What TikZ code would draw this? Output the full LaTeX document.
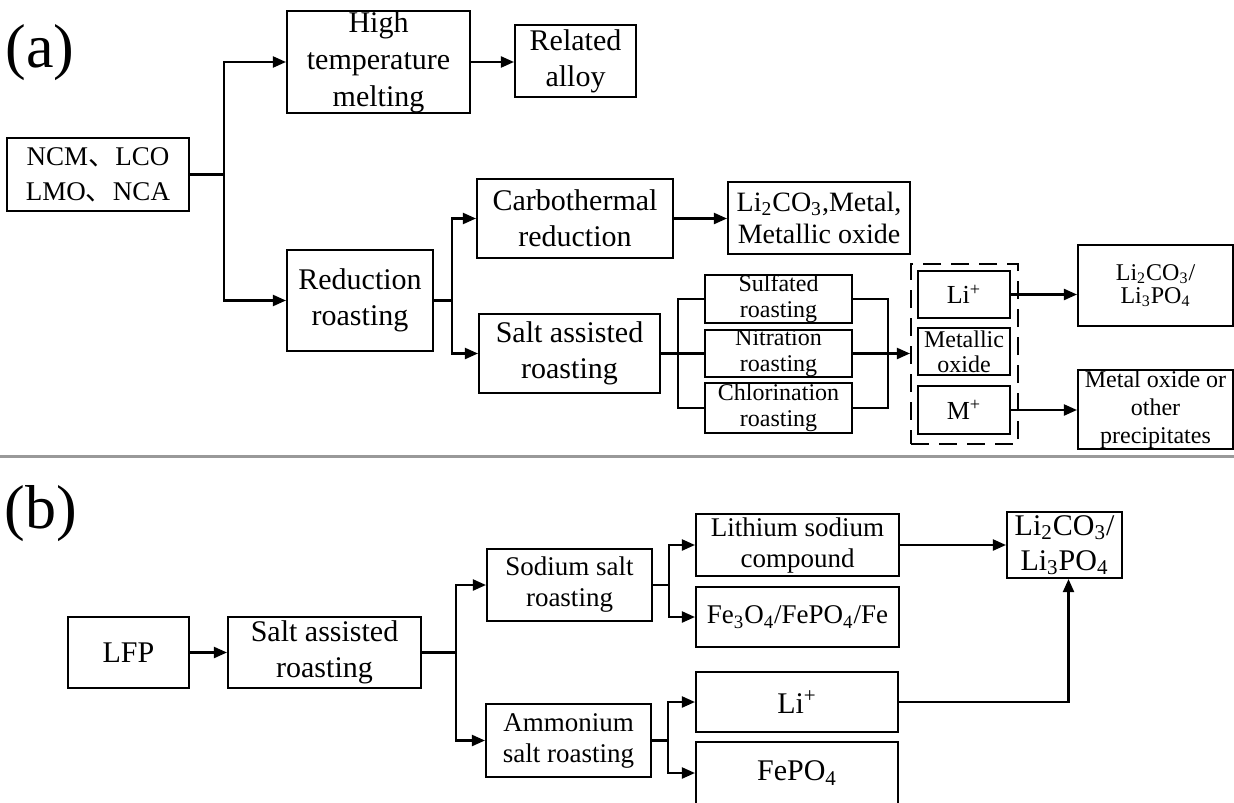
\documentclass[tikz,border=0pt]{standalone}
\usepackage{fontspec}
\setmainfont{Liberation Serif}
\newfontfamily\cjk{Noto Sans CJK SC}
\usetikzlibrary{arrows.meta}

\begin{document}
\begin{tikzpicture}[x=0.5pt, y=-0.5pt,
    box/.style={draw, line width=1.05pt, inner sep=0pt, align=center},
    big/.style={font=\fontsize{15}{18}\selectfont},
    mid/.style={font=\fontsize{13.5}{15.5}\selectfont},
    small/.style={font=\fontsize{12}{13}\selectfont},
    tag/.style={font=\fontsize{31}{36}\selectfont, anchor=base},
    arr/.style={line width=1.05pt, -{Triangle[length=6.5pt,width=5.5pt]}},
    wire/.style={line width=1.05pt}]
    \useasboundingbox (0,0) rectangle (1234,802);

    % (a) cathodes of NCM type
    \node[tag] (taga) at (40,68) {(a)};
    \node[box, font=\fontsize{13.5}{17.5}\selectfont, minimum width=91pt, minimum height=36.5pt] (ncm) at (98,174.5) {NCM{\cjk 、}LCO\\LMO{\cjk 、}NCA};

    % melting route
    \node[box, font=\fontsize{15}{18.5}\selectfont, minimum width=91.5pt, minimum height=50pt] (high) at (378.5,62) {High\\temperature\\melting};
    \node[box, big, minimum width=60.5pt, minimum height=36pt] (alloy) at (575.5,61) {Related\\alloy};

    % roasting route
    \node[box, big, minimum width=73pt, minimum height=50.5pt] (red) at (360,300.5) {Reduction\\roasting};
    \node[box, big, minimum width=98pt, minimum height=39.5pt] (carbo) at (575,218.5) {Carbothermal\\reduction};
    \node[box, font=\fontsize{14}{16}\selectfont, minimum width=91pt, minimum height=36pt] (lico) at (819,218) {Li\textsubscript{2}CO\textsubscript{3},Metal,\\Metallic oxide};
    \node[box, big, minimum width=90.5pt, minimum height=39.5pt] (asalt) at (569.5,353.5) {Salt assisted\\roasting};

    % salt types
    \node[box, small, minimum width=73.5pt, minimum height=24pt] (sulf) at (778.5,299) {Sulfated\\roasting};
    \node[box, small, minimum width=73.5pt, minimum height=23.5pt] (nitr) at (778.5,353.5) {Nitration\\roasting};
    \node[box, small, minimum width=73.5pt, minimum height=25pt] (chlo) at (778.5,408) {Chlorination\\roasting};

    % products
    \node[draw, dashed, dash pattern=on 9pt off 5pt, line width=1.05pt, minimum width=53.5pt, minimum height=90pt] (cage) at (964.5,354) {};
    \node[box, font=\fontsize{13}{13}\selectfont, minimum width=46pt, minimum height=23.5pt] (ali) at (964,294.5) {Li\textsuperscript{+}};
    \node[box, font=\fontsize{12}{12.5}\selectfont, minimum width=46pt, minimum height=23.5pt] (mox) at (964,351.5) {Metallic\\oxide};
    \node[box, font=\fontsize{13}{13}\selectfont, minimum width=46pt, minimum height=24pt] (am) at (964,410) {M\textsuperscript{+}};
    \node[box, font=\fontsize{12}{11.5}\selectfont, minimum width=77.5pt, minimum height=40.5pt] (licp) at (1155.5,285.5) {Li\textsubscript{2}CO\textsubscript{3}/\\Li\textsubscript{3}PO\textsubscript{4}};
    \node[box, font=\fontsize{12}{14}\selectfont, minimum width=77.5pt, minimum height=39.5pt] (prec) at (1155.5,409.5) {Metal oxide or\\other\\precipitates};

    % connectors (a)
    \coordinate (ja) at (224,174.5);
    \draw[wire] (ncm.east) -- (ja);
    \draw[arr] (ja) |- (high.west);
    \draw[arr] (ja) |- (red.west);
    \draw[arr] (high.east) -- (high.east -| alloy.west);
    \coordinate (jb) at (452,300.5);
    \draw[wire] (red.east) -- (jb);
    \draw[arr] (jb) |- (carbo.west);
    \draw[arr] (jb) |- (asalt.west);
    \draw[arr] (carbo.east) -- (carbo.east -| lico.west);
    \coordinate (jc) at (678,353.5);
    \draw[wire] (asalt.east) -- (nitr.west);
    \draw[wire] (sulf.west) -| (jc) |- (chlo.west);
    \coordinate (jd) at (888,353.5);
    \draw[wire] (sulf.east) -| (jd) |- (chlo.east);
    \draw[arr] (nitr.east) -- (nitr.east -| cage.west);
    \draw[arr] (ali.east) -- (ali.east -| licp.west);
    \draw[arr] (am.east) -- (am.east -| prec.west);

    % separator
    \draw[gray!80, line width=1.5pt] (0,456) -- (1234,456);

    % (b) LFP
    \node[tag] (tagb) at (41,528) {(b)};
    \node[box, big, minimum width=60.5pt, minimum height=35.5pt] (lfp) at (128.5,652.5) {LFP};
    \node[box, big, minimum width=96.5pt, minimum height=35.5pt] (bsalt) at (324.5,652.5) {Salt assisted\\roasting};
    \node[box, mid, minimum width=82.5pt, minimum height=36pt] (sod) at (569.5,585) {Sodium salt\\roasting};
    \node[box, mid, minimum width=82.5pt, minimum height=36.5pt] (amm) at (568.5,740.5) {Ammonium\\salt roasting};
    \node[box, mid, minimum width=101.5pt, minimum height=31pt] (lsc) at (797.5,545) {Lithium sodium\\compound};
    \node[box, mid, minimum width=101.5pt, minimum height=30pt] (fe) at (797.5,617) {Fe\textsubscript{3}O\textsubscript{4}/FePO\textsubscript{4}/Fe};
    \node[box, big, minimum width=101pt, minimum height=30pt] (bli) at (797,702) {Li\textsuperscript{+}};
    \node[box, big, minimum width=101pt, minimum height=31pt] (fep) at (797,773) {FePO\textsubscript{4}};
    \node[box, font=\fontsize{15}{17.5}\selectfont, minimum width=57.5pt, minimum height=33pt] (blicp) at (1064.5,545) {Li\textsubscript{2}CO\textsubscript{3}/\\Li\textsubscript{3}PO\textsubscript{4}};

    % connectors (b)
    \draw[arr] (lfp) -- (bsalt);
    \coordinate (je) at (456,652.5);
    \draw[wire] (bsalt.east) -- (je);
    \draw[arr] (je) |- (sod.west);
    \draw[arr] (je) |- (amm.west);
    \coordinate (jf) at (669,585);
    \draw[wire] (sod.east) -- (jf);
    \draw[arr] (jf) |- (lsc.west);
    \draw[arr] (jf) |- (fe.west);
    \coordinate (jg) at (668,740.5);
    \draw[wire] (amm.east) -- (jg);
    \draw[arr] (jg) |- (bli.west);
    \draw[arr] (jg) |- (fep.west);
    \draw[arr] (lsc.east) -- (lsc.east -| blicp.west);
    \draw[arr] (bli.east) -| ([xshift=2pt]blicp.south);
\end{tikzpicture}
\end{document}
